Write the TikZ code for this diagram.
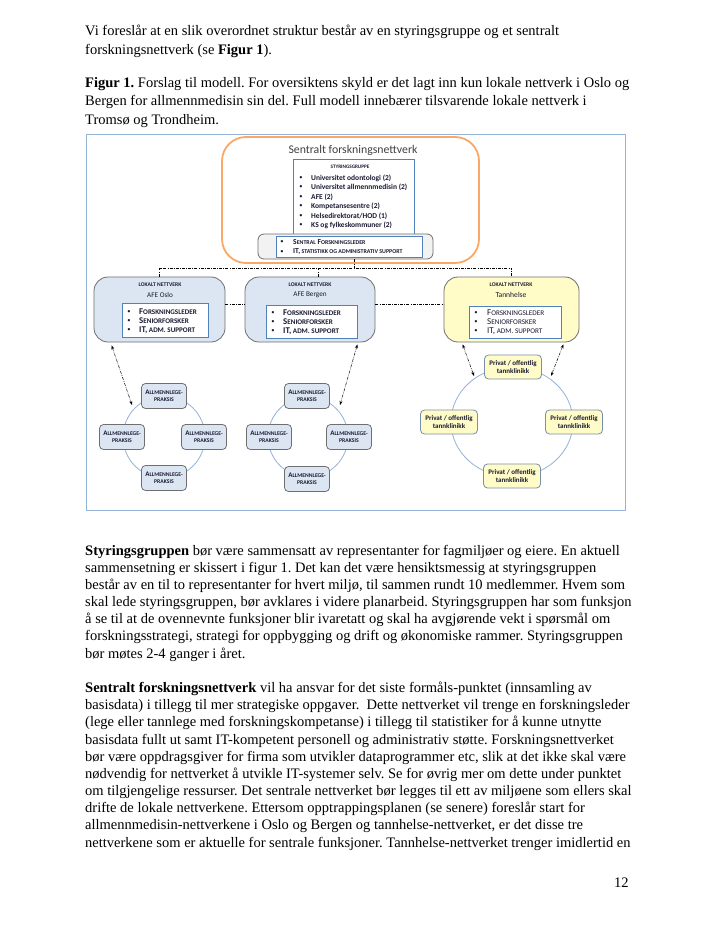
\documentclass[tikz,border=0pt]{standalone}
\usepackage{fontspec}
\setmainfont{Liberation Serif}
\newfontfamily\calf{Carlito}
\usetikzlibrary{arrows.meta}
\definecolor{frameblue}{HTML}{95B3D7}
\definecolor{orng}{HTML}{F9A866}
\definecolor{boxblue}{HTML}{4F81BD}
\definecolor{lblue}{HTML}{DCE6F2}
\definecolor{lyel}{HTML}{FFFCC8}
\definecolor{gfill}{HTML}{F2F2F2}
\definecolor{gline}{HTML}{6F6F6F}
\definecolor{dtext}{HTML}{1A1A33}
\newcommand\fs[2]{\fontsize{#1}{#2}\selectfont}
\newcommand\SCx[3]{#2{\fontsize{#1}{#1}\selectfont #3}}
\frenchspacing
\tikzset{
  bodyline/.style={anchor=base west, inner sep=0pt, font=\fs{14.5}{17}},
  conn/.style={black, line width=0.5pt, dash pattern=on 3pt off 1.2pt on 0.8pt off 1.2pt},
  arr/.style={conn, {Stealth[length=4pt,width=3pt]}-{Stealth[length=4pt,width=3pt]}},
  circ/.style={frameblue, line width=0.8pt},
  localbox/.style={draw=gline, line width=0.8pt, rounded corners=14pt, minimum height=65pt},
  innerbox/.style={draw=boxblue, fill=white, line width=0.6pt},
  smalltxt/.style={inner sep=0pt, text=dtext, font=\calf\bfseries\fs{6.4}{7}},
  itemtxt/.style={anchor=west, inner sep=0pt, text=dtext, font=\calf\bfseries\fs{8.8}{9}},
  sitem/.style={anchor=west, inner sep=0pt, text=dtext, font=\calf\bfseries\fs{7.5}{8}},
  bul/.style={inner sep=0pt, text=dtext, font=\calf\fs{6.5}{6}},
  almnode/.style={draw=gline, fill=lblue, line width=0.8pt, rounded corners=4pt, minimum width=45pt, minimum height=25pt, inner sep=0pt, align=center, text=dtext, font=\calf\bfseries\fs{7}{8}},
  tannode/.style={draw=frameblue!80!black, fill=lyel, line width=0.8pt, rounded corners=4pt, minimum width=57pt, minimum height=24pt, inner sep=0pt, align=center, text=dtext, font=\calf\bfseries\fs{7}{8.5}}
}
\begin{document}
\begin{tikzpicture}[x=1pt,y=-1pt]
\useasboundingbox (0,0) rectangle (714,949);
\fill[white] (0,0) rectangle (714,949);

% ---------- body text ----------
\node[bodyline] (t1) at (85,36) {Vi foreslår at en slik overordnet struktur består av en styringsgruppe og et sentralt};
\node[bodyline] (t2) at (85,54.5) {forskningsnettverk (se \textbf{Figur 1}).};
\node[bodyline] (c1) at (85,87.5) {\textbf{Figur 1.} Forslag til modell. For oversiktens skyld er det lagt inn kun lokale nettverk i Oslo og};
\node[bodyline] (c2) at (85,106) {Bergen for allmennmedisin sin del. Full modell innebærer tilsvarende lokale nettverk i};
\node[bodyline] (c3) at (85,124.5) {Tromsø og Trondheim.};

\node[bodyline] (s1) at (85,555) {\textbf{Styringsgruppen} bør være sammensatt av representanter for fagmiljøer og eiere. En aktuell};
\node[bodyline] (s2) at (85,572.2) {sammensetning er skissert i figur 1. Det kan det være hensiktsmessig at styringsgruppen};
\node[bodyline] (s3) at (85,589.4) {består av en til to representanter for hvert miljø, til sammen rundt 10 medlemmer. Hvem som};
\node[bodyline] (s4) at (85,606.5) {skal lede styringsgruppen, bør avklares i videre planarbeid. Styringsgruppen har som funksjon};
\node[bodyline] (s5) at (85,623.7) {å se til at de ovennevnte funksjoner blir ivaretatt og skal ha avgjørende vekt i spørsmål om};
\node[bodyline] (s6) at (85,640.9) {forskningsstrategi, strategi for oppbygging og drift og økonomiske rammer. Styringsgruppen};
\node[bodyline] (s7) at (85,658.1) {bør møtes 2-4 ganger i året.};

\node[bodyline] (f1) at (85,692.4) {\textbf{Sentralt forskningsnettverk} vil ha ansvar for det siste formåls-punktet (innsamling av};
\node[bodyline] (f2) at (85,709.6) {basisdata) i tillegg til mer strategiske oppgaver.\ \ Dette nettverket vil trenge en forskningsleder};
\node[bodyline] (f3) at (85,726.8) {(lege eller tannlege med forskningskompetanse) i tillegg til statistiker for å kunne utnytte};
\node[bodyline] (f4) at (85,744) {basisdata fullt ut samt IT-kompetent personell og administrativ støtte. Forskningsnettverket};
\node[bodyline] (f5) at (85,761.1) {bør være oppdragsgiver for firma som utvikler dataprogrammer etc, slik at det ikke skal være};
\node[bodyline] (f6) at (85,778.3) {nødvendig for nettverket å utvikle IT-systemer selv. Se for øvrig mer om dette under punktet};
\node[bodyline] (f7) at (85,795.5) {om tilgjengelige ressurser. Det sentrale nettverket bør legges til ett av miljøene som ellers skal};
\node[bodyline] (f8) at (85,812.7) {drifte de lokale nettverkene. Ettersom opptrappingsplanen (se senere) foreslår start for};
\node[bodyline] (f9) at (85,829.9) {allmennmedisin-nettverkene i Oslo og Bergen og tannhelse-nettverket, er det disse tre};
\node[bodyline] (f10) at (85,847) {nettverkene som er aktuelle for sentrale funksjoner. Tannhelse-nettverket trenger imidlertid en};
\node[bodyline] (pg) at (614,887) {12};

% ---------- figure frame ----------
\draw[frameblue, line width=0.8pt] (86,134) rectangle (625,510);

% ---------- central network ----------
\node[draw=orng, line width=1.8pt, rounded corners=24pt, minimum width=257pt, minimum height=126pt] (sfn) at (350.5,200) {};
\node[inner sep=0pt, text=black!75, font=\calf\fs{11.8}{13}] (title) at (353,150) {Sentralt forskningsnettverk};

\node[innerbox, minimum width=121pt, minimum height=77pt] (styr) at (353.5,197.5) {};
\node[smalltxt, font=\calf\bfseries\fs{5.2}{6}] (styrh) at (350,167) {STYRINGSGRUPPE};
\node[bul] (b1) at (301,178) {\textbullet};
\node[sitem] (i1) at (311,178) {Universitet odontologi (2)};
\node[bul] (b2) at (301,187.5) {\textbullet};
\node[sitem] (i2) at (311,187.5) {Universitet allmennmedisin (2)};
\node[bul] (b3) at (301,197) {\textbullet};
\node[sitem] (i3) at (311,197) {AFE (2)};
\node[bul] (b4) at (301,206.5) {\textbullet};
\node[sitem] (i4) at (311,206.5) {Kompetansesentre (2)};
\node[bul] (b5) at (301,216) {\textbullet};
\node[sitem] (i5) at (311,216) {Helsedirektorat/HOD (1)};
\node[bul] (b6) at (301,225.5) {\textbullet};
\node[sitem] (i6) at (311,225.5) {KS og fylkeskommuner (2)};

\node[draw=gline, fill=gfill, line width=0.8pt, rounded corners=6pt, minimum width=175pt, minimum height=25pt] (sup) at (345.5,246.5) {};
\node[innerbox, minimum width=146pt, minimum height=21pt] (supin) at (349,246.5) {};
\node[bul] (b7) at (282,242.5) {\textbullet};
\node[sitem, font=\calf\bfseries\fs{7.6}{7}] (i7) at (293,242.5) {\SCx{5.9}{S}{ENTRAL} \SCx{5.9}{F}{ORSKNINGSLEDER}};
\node[bul] (b8) at (282,252) {\textbullet};
\node[sitem, font=\calf\bfseries\fs{7.6}{7}] (i8) at (293,252) {\SCx{5.9}{IT,}{ STATISTIKK OG ADMINISTRATIV SUPPORT}};

% ---------- local networks ----------
\node[localbox, fill=lblue, minimum width=131pt] (osl) at (159.5,309.5) {};
\node[localbox, fill=lblue, minimum width=130pt] (bgn) at (310,309.5) {};
\node[localbox, fill=lyel, minimum width=135pt] (tan) at (511.5,309.5) {};

\node[smalltxt, font=\calf\bfseries\fs{5.6}{6}] (oh) at (160,285) {LOKALT NETTVERK};
\node[smalltxt, font=\calf\fs{7.2}{8}] (on) at (160,295) {AFE Oslo};
\node[smalltxt, font=\calf\bfseries\fs{5.6}{6}] (bh) at (310,285) {LOKALT NETTVERK};
\node[smalltxt, font=\calf\fs{7.2}{8}] (bn) at (310,295) {AFE Bergen};
\node[smalltxt, font=\calf\bfseries\fs{5.6}{6}] (th) at (511,285) {LOKALT NETTVERK};
\node[smalltxt, font=\calf\fs{7.6}{8}] (tn) at (511,294.5) {Tannhelse};

\node[innerbox, minimum width=86pt, minimum height=34pt] (oin) at (165,320) {};
\node[bul] (ob1) at (129,312) {\textbullet};
\node[itemtxt] (oi1) at (139,312) {\SCx{7.1}{F}{ORSKNINGSLEDER}};
\node[bul] (ob2) at (129,321) {\textbullet};
\node[itemtxt] (oi2) at (139,321) {\SCx{7.1}{S}{ENIORFORSKER}};
\node[bul] (ob3) at (129,330) {\textbullet};
\node[itemtxt] (oi3) at (139,330) {\SCx{7.1}{IT,}{ ADM. SUPPORT}};

\node[innerbox, minimum width=91pt, minimum height=33pt] (bin) at (311.5,321.5) {};
\node[bul] (bb1) at (273,313) {\textbullet};
\node[itemtxt] (bi1) at (283,313) {\SCx{7.1}{F}{ORSKNINGSLEDER}};
\node[bul] (bb2) at (273,322) {\textbullet};
\node[itemtxt] (bi2) at (283,322) {\SCx{7.1}{S}{ENIORFORSKER}};
\node[bul] (bb3) at (273,331) {\textbullet};
\node[itemtxt] (bi3) at (283,331) {\SCx{7.1}{IT,}{ ADM. SUPPORT}};

\node[innerbox, minimum width=92pt, minimum height=32pt] (tin) at (515,322) {};
\node[bul] (tb1) at (476,313) {\textbullet};
\node[itemtxt, font=\calf\fs{9}{9}] (ti1) at (487,313) {\SCx{7.2}{F}{ORSKNINGSLEDER}};
\node[bul] (tb2) at (476,322) {\textbullet};
\node[itemtxt, font=\calf\fs{9}{9}] (ti2) at (487,322) {\SCx{7.2}{S}{ENIORFORSKER}};
\node[bul] (tb3) at (476,331.5) {\textbullet};
\node[itemtxt, font=\calf\fs{9}{9}] (ti3) at (487,331.5) {\SCx{7.2}{IT,}{ ADM. SUPPORT}};

% ---------- connectors between central and local ----------
\coordinate (hub) at (354,268);
\draw[conn] (sup.south -| hub) -- (hub);
\draw[conn] (osl.north) |- (hub) -| (tan.north);
\draw[conn] ([xshift=8pt]bgn.north) -- ([xshift=8pt]bgn.north |- hub);
\draw[conn] ([yshift=5pt]osl.east) -- ([yshift=5pt]bgn.west);
\draw[conn] ([yshift=5pt]bgn.east) -- ([yshift=5pt]tan.west);

% ---------- Oslo circle ----------
\coordinate (oc) at (164,437);
\draw[circ] (oc) circle[radius=41pt];
\node[almnode] (o1) at (164,396) {\SCx{5.7}{A}{LLMENNLEGE-}\\[-1pt]\SCx{5.7}{}{PRAKSIS}};
\node[almnode] (o2) at (122,437) {\SCx{5.7}{A}{LLMENNLEGE-}\\[-1pt]\SCx{5.7}{}{PRAKSIS}};
\node[almnode] (o3) at (204,437) {\SCx{5.7}{A}{LLMENNLEGE-}\\[-1pt]\SCx{5.7}{}{PRAKSIS}};
\node[almnode] (o4) at (164,478) {\SCx{5.7}{A}{LLMENNLEGE-}\\[-1pt]\SCx{5.7}{}{PRAKSIS}};

% ---------- Bergen circle ----------
\coordinate (bc) at (308,437);
\draw[circ] (bc) circle[radius=40pt];
\node[almnode] (p1) at (307,396) {\SCx{5.7}{A}{LLMENNLEGE-}\\[-1pt]\SCx{5.7}{}{PRAKSIS}};
\node[almnode] (p2) at (269,437) {\SCx{5.7}{A}{LLMENNLEGE-}\\[-1pt]\SCx{5.7}{}{PRAKSIS}};
\node[almnode] (p3) at (349,437) {\SCx{5.7}{A}{LLMENNLEGE-}\\[-1pt]\SCx{5.7}{}{PRAKSIS}};
\node[almnode] (p4) at (307,479) {\SCx{5.7}{A}{LLMENNLEGE-}\\[-1pt]\SCx{5.7}{}{PRAKSIS}};

% ---------- Tannhelse circle ----------
\coordinate (tc) at (512,422);
\draw[circ] (tc) ellipse[x radius=61pt, y radius=55pt];
\node[tannode] (q1) at (513,367) {Privat / offentlig\\[-1pt]tannklinikk};
\node[tannode] (q2) at (449,422) {Privat / offentlig\\[-1pt]tannklinikk};
\node[tannode] (q3) at (574,422) {Privat / offentlig\\[-1pt]tannklinikk};
\node[tannode] (q4) at (512,476) {Privat / offentlig\\[-1pt]tannklinikk};

% ---------- arrows ----------
\coordinate (oa) at (132,405);
\coordinate (ba) at (340,405);
\coordinate (ta1) at (474,376);
\coordinate (ta2) at (551,376);
\draw[arr] ([xshift=18pt,yshift=-3pt]osl.south west) -- (oa);
\draw[arr] ([xshift=-18pt,yshift=-2pt]bgn.south east) -- (ba);
\draw[arr] ([xshift=19pt,yshift=-2pt]tan.south west) -- (ta1);
\draw[arr] ([xshift=-16pt,yshift=-2pt]tan.south east) -- (ta2);
\end{tikzpicture}
\end{document}
